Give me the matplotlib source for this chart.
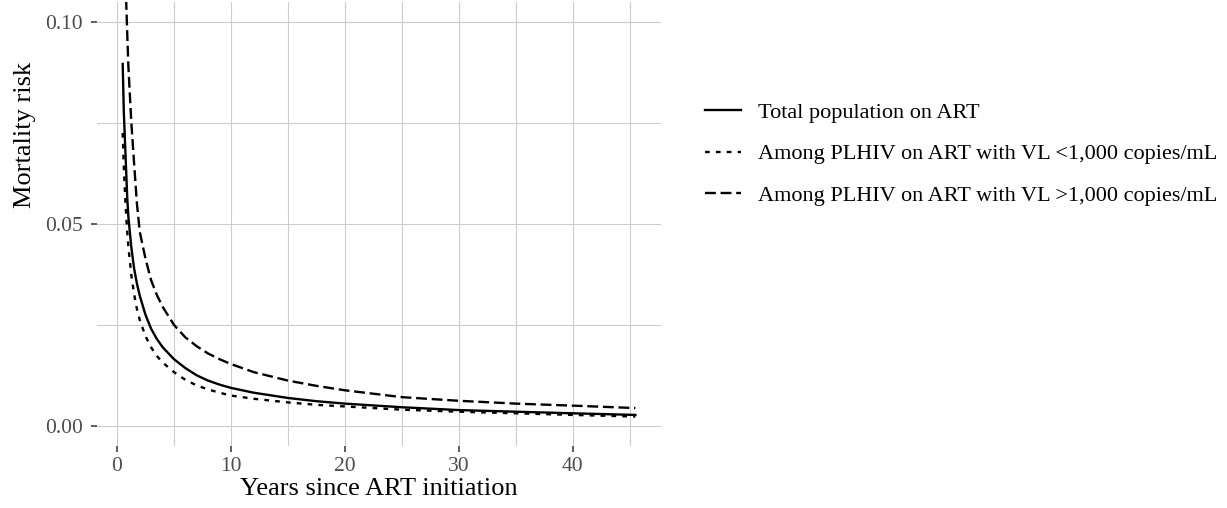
import matplotlib
matplotlib.use("Agg")
import matplotlib.pyplot as plt

plt.rcParams["font.family"] = ["Liberation Serif", "DejaVu Serif"]

# mortality risk by years since ART initiation
years = [0.5, 0.6, 0.75, 0.9, 1, 1.25, 1.5, 1.75, 2, 2.5, 3, 3.5, 4, 5, 6,
         7, 8, 9, 10, 12, 15, 17.5, 20, 25, 30, 35, 40, 45.5]
total = [0.0896, 0.0776, 0.067, 0.0564, 0.0517, 0.0444, 0.039, 0.0352,
         0.0322, 0.0275, 0.0240, 0.0215, 0.0195, 0.0165, 0.0143, 0.0125,
         0.0112, 0.0102, 0.0094, 0.0082, 0.0069, 0.0061, 0.0055, 0.0046,
         0.0039, 0.0035, 0.0031, 0.0027]
vl_low = [0.0725, 0.0640, 0.0548, 0.0479, 0.0443, 0.0375, 0.0326, 0.0289,
          0.0262, 0.0222, 0.0194, 0.0173, 0.0157, 0.0133, 0.0114, 0.0100,
          0.0090, 0.0082, 0.0075, 0.0067, 0.0058, 0.0052, 0.0048, 0.0040,
          0.0035, 0.0031, 0.0027, 0.0023]
vl_high = [0.153, 0.133, 0.110, 0.097, 0.089, 0.0755, 0.065, 0.055, 0.048,
           0.0414, 0.036, 0.0324, 0.0295, 0.025, 0.0219, 0.0197, 0.0179,
           0.0165, 0.0153, 0.0133, 0.0112, 0.0099, 0.0088, 0.0071, 0.0062,
           0.0055, 0.0050, 0.0044]

labels = ["Total population on ART",
          "Among PLHIV on ART with VL <1,000 copies/mL",
          "Among PLHIV on ART with VL >1,000 copies/mL"]

fig = plt.figure(figsize=(12.27, 5.08), dpi=100)
ax = fig.add_axes([0.0791, 0.122, 0.4596, 0.8746])

lw = 1.7
ax.plot(years, total, color="black", lw=lw, label=labels[0])
ax.plot(years, vl_low, color="black", lw=lw, linestyle=(0, (2.0, 2.6)),
        label=labels[1])
ax.plot(years, vl_high, color="black", lw=lw, linestyle=(0, (4.6, 2.0)),
        label=labels[2])

ax.set_xlim(-1.75, 47.75)
ax.set_ylim(-0.005, 0.105)
ax.set_xticks([0, 10, 20, 30, 40])
ax.set_xticks([5, 15, 25, 35, 45], minor=True)
ax.set_yticks([0.0, 0.05, 0.10])
ax.set_yticks([0.025, 0.075], minor=True)
ax.set_yticklabels(["0.00", "0.05", "0.10"])

ax.grid(True, which="both", color="#CCCCCC", lw=0.8)
ax.set_axisbelow(True)
for s in ax.spines.values():
    s.set_visible(False)

ax.tick_params(which="major", length=4, width=1.1, color="#333333",
               labelsize=15.5, labelcolor="#4D4D4D", pad=4)
ax.tick_params(axis="y", which="major", pad=6)
ax.tick_params(which="minor", length=0)

ax.set_xlabel("Years since ART initiation", fontsize=19)
ax.set_ylabel("Mortality risk", fontsize=19)
ax.yaxis.set_label_coords(-0.108, 0.70)
ax.xaxis.labelpad = 1

ax.legend(loc="center left", bbox_to_anchor=(705 / 1227, 1 - 154 / 508),
          bbox_transform=fig.transFigure, frameon=False, fontsize=16,
          handlelength=1.6, handletextpad=0.8, labelspacing=0.95,
          borderpad=0, borderaxespad=0)

fig.savefig("out.png", dpi=100)
